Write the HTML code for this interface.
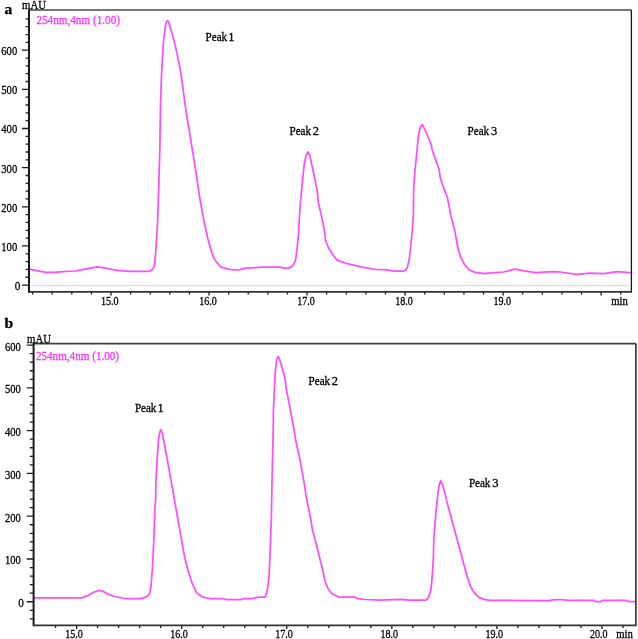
<!DOCTYPE html>
<html><head><meta charset="utf-8"><style>
html,body{margin:0;padding:0;background:#fff;width:638px;height:639px;overflow:hidden}
svg{display:block;will-change:transform}
text{font-family:"Liberation Serif",serif;fill:#000;stroke:#000;stroke-width:0.3px}
.n{font-size:12.5px}
.yl{font-size:13px}
.u{font-size:13.2px}
.pk{font-size:12.5px}
.bl{font-size:15.5px;font-weight:bold}
.mg{fill:#ff33ff;stroke:#ff33ff}
</style></head><body>
<svg width="638" height="639" viewBox="0 0 638 639">
<rect width="638" height="639" fill="#fff"/>
<line x1="31" y1="285.5" x2="629.4" y2="285.5" stroke="#e0e0e0" stroke-width="1.3"/>
<polyline points="29.5,268.8 31,269.3 38,270.8 46.3,272.3 54.5,272.3 66,271.4 76,271 81,269.8 97.3,266.8 105.4,268.2 117.6,270.3 129.9,271.3 148.2,271.3 150.5,271 151.8,270 153.4,268 154.4,265.2 155.7,252.7 157.6,221.3 158.5,195 159.9,147 160.5,105 161.6,72.7 163.5,41.3 165.5,25.7 166.6,21.8 167.7,20.7 168.6,21.8 169.8,25.7 174.2,41.3 177.1,53.9 180.8,72.7 185.2,105 186.2,112.5 189.4,131.3 194.4,162.7 196.4,175.2 199.3,195 201.1,205.7 204,221.3 207.4,237 211.8,252.7 215.2,260.5 220.7,266.8 227.8,269.2 234,270 240,269.7 246,268.1 263.2,267.1 280.5,267.1 283.6,268.1 288.3,268.1 292.2,266.4 295.3,261.3 296.9,250.4 298.3,236.3 299.3,218.4 300.4,202.7 302.7,179.2 304.3,163.5 306.2,155 307.9,151.8 309.6,155 311.5,163.5 314.9,179.2 317.3,191.7 318.4,202.7 322,218.4 324.3,230 325.6,241 329,248.8 333.1,255.1 337.1,260.1 347.2,263.7 361.3,266.8 375.5,269.5 384.9,269.7 394.3,271.1 403.9,271.1 405.8,270 407.3,267.4 409.1,260 410.7,246.5 412.2,231.3 413.3,215.7 413.7,188.4 414.8,172.7 417.1,149.2 418.7,133.5 420.4,127 422.3,124.4 426.6,133.5 431.2,144.5 432,149.2 439.1,169.6 440.2,177.4 443.8,188.4 447.5,198 449.4,207.8 450.9,215.7 454.9,231.3 457.7,247 460.3,256.4 464.3,264.3 469,269.7 475.2,272.4 484.6,273.7 490.9,272.9 503.6,272 515,269.1 524.1,270.9 535.5,272.7 553.6,271.6 560.5,272 576.4,274.3 590,273.2 603.6,273.6 617.3,271.6 630.5,272.7" fill="none" stroke="#ff4dff" stroke-width="1.75" stroke-linejoin="round" stroke-linecap="round"/>
<path d="M22 285.1H29 M25.6 277.27H29 M25.6 269.44H29 M25.6 261.61H29 M25.6 253.78H29 M22 245.95H29 M25.6 238.12H29 M25.6 230.29H29 M25.6 222.46H29 M25.6 214.63H29 M22 206.8H29 M25.6 198.97H29 M25.6 191.14H29 M25.6 183.31H29 M25.6 175.48H29 M22 167.65H29 M25.6 159.82H29 M25.6 151.99H29 M25.6 144.16H29 M25.6 136.33H29 M22 128.5H29 M25.6 120.67H29 M25.6 112.84H29 M25.6 105.01H29 M25.6 97.18H29 M22 89.35H29 M25.6 81.52H29 M25.6 73.69H29 M25.6 65.86H29 M25.6 58.03H29 M22 50.2H29 M25.6 42.37H29 M25.6 34.54H29 M25.6 26.71H29 M25.6 18.88H29 M32.61 291.9V294.5 M52.22 291.9V294.5 M71.82 291.9V294.5 M91.43 291.9V294.5 M111.03 291.9V295.5 M130.63 291.9V294.5 M150.24 291.9V294.5 M169.84 291.9V294.5 M189.45 291.9V294.5 M209.05 291.9V295.5 M228.65 291.9V294.5 M248.26 291.9V294.5 M267.86 291.9V294.5 M287.47 291.9V294.5 M307.07 291.9V295.5 M326.67 291.9V294.5 M346.28 291.9V294.5 M365.88 291.9V294.5 M385.49 291.9V294.5 M405.09 291.9V295.5 M424.69 291.9V294.5 M444.3 291.9V294.5 M463.9 291.9V294.5 M483.51 291.9V294.5 M503.11 291.9V295.5 M522.71 291.9V294.5 M542.32 291.9V294.5 M561.92 291.9V294.5 M581.53 291.9V294.5 M601.13 291.9V295.5 M620.73 291.9V294.5" stroke="#1a1a1a" stroke-width="1.3" fill="none"/>
<path d="M29 10H631.4" fill="none" stroke="#4a4a4a" stroke-width="1.5"/>
<path d="M631.4 10V291.9" fill="none" stroke="#151515" stroke-width="1.3"/>
<line x1="29" y1="9.4" x2="29" y2="292.8" stroke="#1a1a1a" stroke-width="2"/>
<line x1="29" y1="291.9" x2="632" y2="291.9" stroke="#333" stroke-width="1.9"/>
<text x="14.8" y="290" class="yl" textLength="5.6" lengthAdjust="spacingAndGlyphs">0</text>
<text x="1.3" y="250.85" class="yl" textLength="15.9" lengthAdjust="spacingAndGlyphs">100</text>
<text x="1.3" y="211.7" class="yl" textLength="15.9" lengthAdjust="spacingAndGlyphs">200</text>
<text x="1.3" y="172.55" class="yl" textLength="15.9" lengthAdjust="spacingAndGlyphs">300</text>
<text x="1.3" y="133.4" class="yl" textLength="15.9" lengthAdjust="spacingAndGlyphs">400</text>
<text x="1.3" y="94.25" class="yl" textLength="15.9" lengthAdjust="spacingAndGlyphs">500</text>
<text x="1.3" y="55.1" class="yl" textLength="15.9" lengthAdjust="spacingAndGlyphs">600</text>
<text x="101" y="304.9" class="n" textLength="17.6" lengthAdjust="spacingAndGlyphs">15.0</text>
<text x="199.2" y="304.9" class="n" textLength="17.6" lengthAdjust="spacingAndGlyphs">16.0</text>
<text x="297.2" y="304.9" class="n" textLength="17.6" lengthAdjust="spacingAndGlyphs">17.0</text>
<text x="395.2" y="304.9" class="n" textLength="17.6" lengthAdjust="spacingAndGlyphs">18.0</text>
<text x="493.4" y="304.9" class="n" textLength="17.6" lengthAdjust="spacingAndGlyphs">19.0</text>
<text x="4.6" y="14" class="bl">a</text>
<text x="22" y="9.4" class="u" textLength="24" lengthAdjust="spacingAndGlyphs">mAU</text>
<text x="36.4" y="23.6" class="n mg" textLength="83.6" lengthAdjust="spacingAndGlyphs">254nm,4nm (1.00)</text>
<text x="205.6" y="41" class="pk" textLength="21.5" lengthAdjust="spacingAndGlyphs">Peak</text>
<text x="228.2" y="41" class="pk">1</text>
<text x="289.5" y="134.9" class="pk" textLength="21.5" lengthAdjust="spacingAndGlyphs">Peak</text>
<text x="312.7" y="134.9" class="pk">2</text>
<text x="467.6" y="134.9" class="pk" textLength="21.5" lengthAdjust="spacingAndGlyphs">Peak</text>
<text x="491" y="134.9" class="pk">3</text>
<text x="611.2" y="304.9" class="n" textLength="16.6" lengthAdjust="spacingAndGlyphs">min</text>
<polyline points="34.3,597.9 81.9,597.9 88,595.5 94.1,592 99.2,590.4 103.3,591.4 108.4,594.4 114.5,596.5 124.7,598.5 141,598.5 145.8,597.2 147.1,596.5 149.6,593.8 151,586 152.4,568.8 154.1,534.4 154.8,510 155.6,500 156,480.5 157.3,457 158.4,441.3 159.5,433 160.8,429.6 162.2,433 163.9,441.3 166.7,456.5 169.5,471.9 172.3,487.5 175,503.1 178.9,525 180.6,534.4 184.2,555.1 187.5,568.8 191.9,582.6 196.6,592.9 202.6,597.2 209.5,598.5 223.5,598.5 225.9,599.5 241.5,599.5 243.9,598.5 251.7,598.5 258.8,597 265,597 266,595.2 267.8,587.4 269.1,574.9 270.2,551.3 270.9,530 271.3,520 272.1,477 273.2,430 273.4,410.5 274.5,387 275.3,371.3 276.6,360 278.1,356.5 279.8,360 283.1,371.3 285.5,380.8 285.9,387 290.5,410.5 294.1,430 295.6,440 300.3,461.3 305,488 305.8,494.3 310.9,520 312.4,530 314.1,535.7 318,551.3 321.9,567 325.5,582.7 328.2,589 332.1,593.7 338.4,597.1 355.6,597.1 357,598.6 365.5,599.5 379.6,600.2 400.8,599.3 409.2,600.2 425.5,600.2 426.5,599.6 428.3,597.6 430.7,590.8 431.8,581.3 432.6,570 433.3,560 433.8,540.5 435.5,517 437.9,493.5 439.2,485 440.6,480.7 442.2,484 445,493.5 446.3,499.4 451,517 457.4,540.5 461.9,557 466.6,574.7 470.7,586.9 474.5,593 478.8,597.1 484,599.4 490,600.4 550.1,600.6 552.2,599.9 560.8,599.5 568.2,600.4 594.2,600.4 595.5,601.5 601,601.5 602.2,600.4 626.9,600.4 629,601.6 634.7,601.6" fill="none" stroke="#ff4dff" stroke-width="1.75" stroke-linejoin="round" stroke-linecap="round"/>
<path d="M29.8 618.87H33.6 M29.8 610.32H33.6 M26.8 601.76H33.6 M29.8 593.2H33.6 M29.8 584.65H33.6 M29.8 576.09H33.6 M29.8 567.53H33.6 M26.8 558.98H33.6 M29.8 550.42H33.6 M29.8 541.86H33.6 M29.8 533.31H33.6 M29.8 524.75H33.6 M26.8 516.19H33.6 M29.8 507.64H33.6 M29.8 499.08H33.6 M29.8 490.52H33.6 M29.8 481.96H33.6 M26.8 473.41H33.6 M29.8 464.85H33.6 M29.8 456.29H33.6 M29.8 447.74H33.6 M29.8 439.18H33.6 M26.8 430.62H33.6 M29.8 422.07H33.6 M29.8 413.51H33.6 M29.8 404.95H33.6 M29.8 396.4H33.6 M26.8 387.84H33.6 M29.8 379.28H33.6 M29.8 370.73H33.6 M29.8 362.17H33.6 M29.8 353.61H33.6 M26.8 345.06H33.6 M55.56 625.4V628 M76.58 625.4V629 M97.6 625.4V628 M118.61 625.4V628 M139.63 625.4V628 M160.64 625.4V628 M181.66 625.4V629 M202.68 625.4V628 M223.69 625.4V628 M244.71 625.4V628 M265.72 625.4V628 M286.74 625.4V629 M307.76 625.4V628 M328.77 625.4V628 M349.79 625.4V628 M370.8 625.4V628 M391.82 625.4V629 M412.84 625.4V628 M433.85 625.4V628 M454.87 625.4V628 M475.88 625.4V628 M496.9 625.4V629 M517.92 625.4V628 M538.93 625.4V628 M559.95 625.4V628 M580.96 625.4V628 M601.98 625.4V629 M623 625.4V628" stroke="#1a1a1a" stroke-width="1.3" fill="none"/>
<path d="M33.6 343.6H635.9" fill="none" stroke="#404040" stroke-width="1.7"/>
<path d="M635.9 343.6V625.4" fill="none" stroke="#383838" stroke-width="1.7"/>
<line x1="33.6" y1="343" x2="33.6" y2="626.3" stroke="#1a1a1a" stroke-width="2"/>
<line x1="33.6" y1="625.4" x2="636.5" y2="625.4" stroke="#333" stroke-width="1.9"/>
<text x="18.2" y="607.26" class="yl" textLength="5.6" lengthAdjust="spacingAndGlyphs">0</text>
<text x="4.9" y="564.48" class="yl" textLength="15.9" lengthAdjust="spacingAndGlyphs">100</text>
<text x="4.9" y="521.69" class="yl" textLength="15.9" lengthAdjust="spacingAndGlyphs">200</text>
<text x="4.9" y="478.91" class="yl" textLength="15.9" lengthAdjust="spacingAndGlyphs">300</text>
<text x="4.9" y="436.12" class="yl" textLength="15.9" lengthAdjust="spacingAndGlyphs">400</text>
<text x="4.9" y="393.34" class="yl" textLength="15.9" lengthAdjust="spacingAndGlyphs">500</text>
<text x="4.9" y="350.56" class="yl" textLength="15.9" lengthAdjust="spacingAndGlyphs">600</text>
<text x="65.2" y="637.9" class="n" textLength="17.6" lengthAdjust="spacingAndGlyphs">15.0</text>
<text x="170.2" y="637.9" class="n" textLength="17.6" lengthAdjust="spacingAndGlyphs">16.0</text>
<text x="275.3" y="637.9" class="n" textLength="17.6" lengthAdjust="spacingAndGlyphs">17.0</text>
<text x="380.4" y="637.9" class="n" textLength="17.6" lengthAdjust="spacingAndGlyphs">18.0</text>
<text x="485.5" y="637.9" class="n" textLength="17.6" lengthAdjust="spacingAndGlyphs">19.0</text>
<text x="590" y="637.9" class="n" textLength="17.6" lengthAdjust="spacingAndGlyphs">20.0</text>
<text x="4.5" y="328" class="bl">b</text>
<text x="27.1" y="343" class="u" textLength="24" lengthAdjust="spacingAndGlyphs">mAU</text>
<text x="35.9" y="360.4" class="n mg" textLength="83.2" lengthAdjust="spacingAndGlyphs">254nm,4nm (1.00)</text>
<text x="134.9" y="411.5" class="pk" textLength="21.5" lengthAdjust="spacingAndGlyphs">Peak</text>
<text x="157.5" y="411.5" class="pk">1</text>
<text x="308.6" y="385.3" class="pk" textLength="21.5" lengthAdjust="spacingAndGlyphs">Peak</text>
<text x="331.8" y="385.3" class="pk">2</text>
<text x="468.9" y="487.4" class="pk" textLength="21.5" lengthAdjust="spacingAndGlyphs">Peak</text>
<text x="492.3" y="487.4" class="pk">3</text>
<text x="616.2" y="637.6" class="n" textLength="16.6" lengthAdjust="spacingAndGlyphs">min</text>
</svg>
</body></html>
